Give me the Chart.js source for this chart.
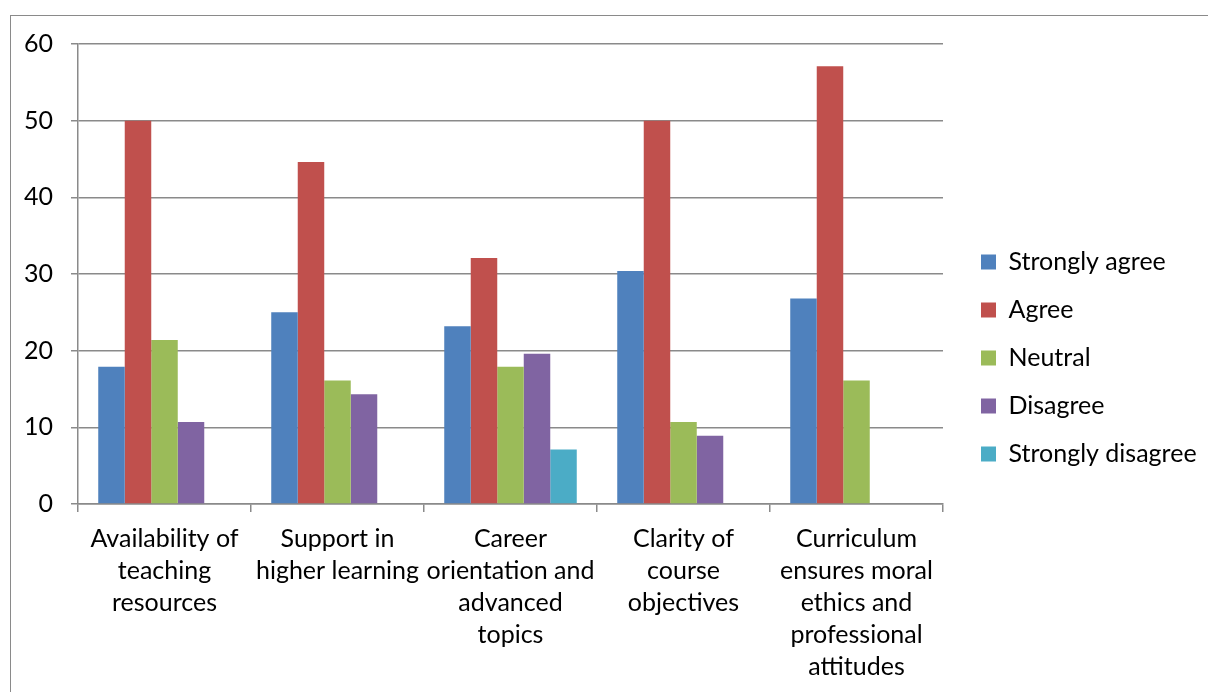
<!DOCTYPE html>
<html>
<head>
<meta charset="utf-8">
<script src="https://cdn.jsdelivr.net/npm/chart.js@4.4.1/dist/chart.umd.min.js"></script>
<style>
  html, body { margin: 0; padding: 0; background: #fff; overflow: hidden; }
  #frame { position: absolute; left: 10px; top: 15px; width: 1400px; height: 900px; border: 1.5px solid #8a8a8a; }
  #wrap { position: absolute; left: 0; top: 0; width: 1208px; height: 692px; }
</style>
</head>
<body>
<div id="frame"></div>
<div id="wrap"><canvas id="myChart" width="1208" height="692"></canvas></div>
<script>
// categories (multi-line as in the original)
let categories = [
  ['Availability of', 'teaching', 'resources'],
  ['Support in', 'higher learning'],
  ['Career', 'orientation and', 'advanced', 'topics'],
  ['Clarity of', 'course', 'objectives'],
  ['Curriculum', 'ensures moral', 'ethics and', 'professional', 'attitudes']
];
let seriesNames = ['Strongly agree', 'Agree', 'Neutral', 'Disagree', 'Strongly disagree'];
let stronglyAgree = [17.9, 25.0, 23.2, 30.4, 26.8];
let agree = [50.0, 44.6, 32.1, 50.0, 57.1];
let neutral = [21.4, 16.1, 17.9, 10.7, 16.1];
let disagree = [10.7, 14.3, 19.6, 8.9, null];
let stronglyDisagree = [null, null, 7.1, null, null];
let yTicks = [0, 10, 20, 30, 40, 50, 60];

let colors = ['#4F81BD', '#C0504D', '#9BBB59', '#8064A2', '#4BACC6'];
let font = 'Lato, "Open Sans", sans-serif';
let gridColor = '#8a8a8a';

const ctx = document.getElementById('myChart');

new Chart(ctx, {
  type: 'bar',
  data: {
    labels: categories,
    datasets: [stronglyAgree, agree, neutral, disagree, stronglyDisagree].map((d, i) => ({
      label: seriesNames[i],
      data: d,
      backgroundColor: colors[i],
      borderWidth: 0,
      categoryPercentage: 0.766,
      barPercentage: 1.0
    }))
  },
  options: {
    responsive: false,
    animation: false,
    layout: { padding: { top: 44, left: 10, right: 0, bottom: 0 } },
    plugins: {
      tooltip: { enabled: false },
      legend: {
        position: 'right',
        labels: {
          color: '#000',
          boxWidth: 15,
          boxHeight: 15,
          padding: 23,
          font: { family: font, size: 25 }
        }
      }
    },
    scales: {
      x: {
        grid: { display: true, drawOnChartArea: false, drawTicks: true, tickLength: 8, color: gridColor, lineWidth: 1.5 },
        border: { color: gridColor, width: 1.5 },
        ticks: { color: '#000', autoSkip: false, maxRotation: 0, padding: 11, font: { family: font, size: 25, lineHeight: 32 / 25 } },
        afterFit(s) { s.height = 188; }
      },
      y: {
        min: 0,
        max: 60,
        afterBuildTicks(s) { s.ticks = yTicks.map(v => ({ value: v })); },
        grid: { color: gridColor, lineWidth: 1.5, tickLength: 7 },
        border: { color: gridColor, width: 1.5 },
        ticks: { color: '#000', padding: 18, font: { family: font, size: 25 } },
        afterFit(s) { s.width = 68; }
      }
    }
  },
  plugins: [{
    id: 'legendPlace',
    beforeInit(chart) {
      const lg = chart.legend;
      const fit = lg.fit;
      lg.fit = function () { fit.call(this); this.width = 265; };
    },
    afterLayout(chart) {
      const lg = chart.legend;
      lg.left += 15; lg.right += 15;
      lg.top -= 10; lg.bottom -= 10;
    }
  }]
});
</script>
</body>
</html>
